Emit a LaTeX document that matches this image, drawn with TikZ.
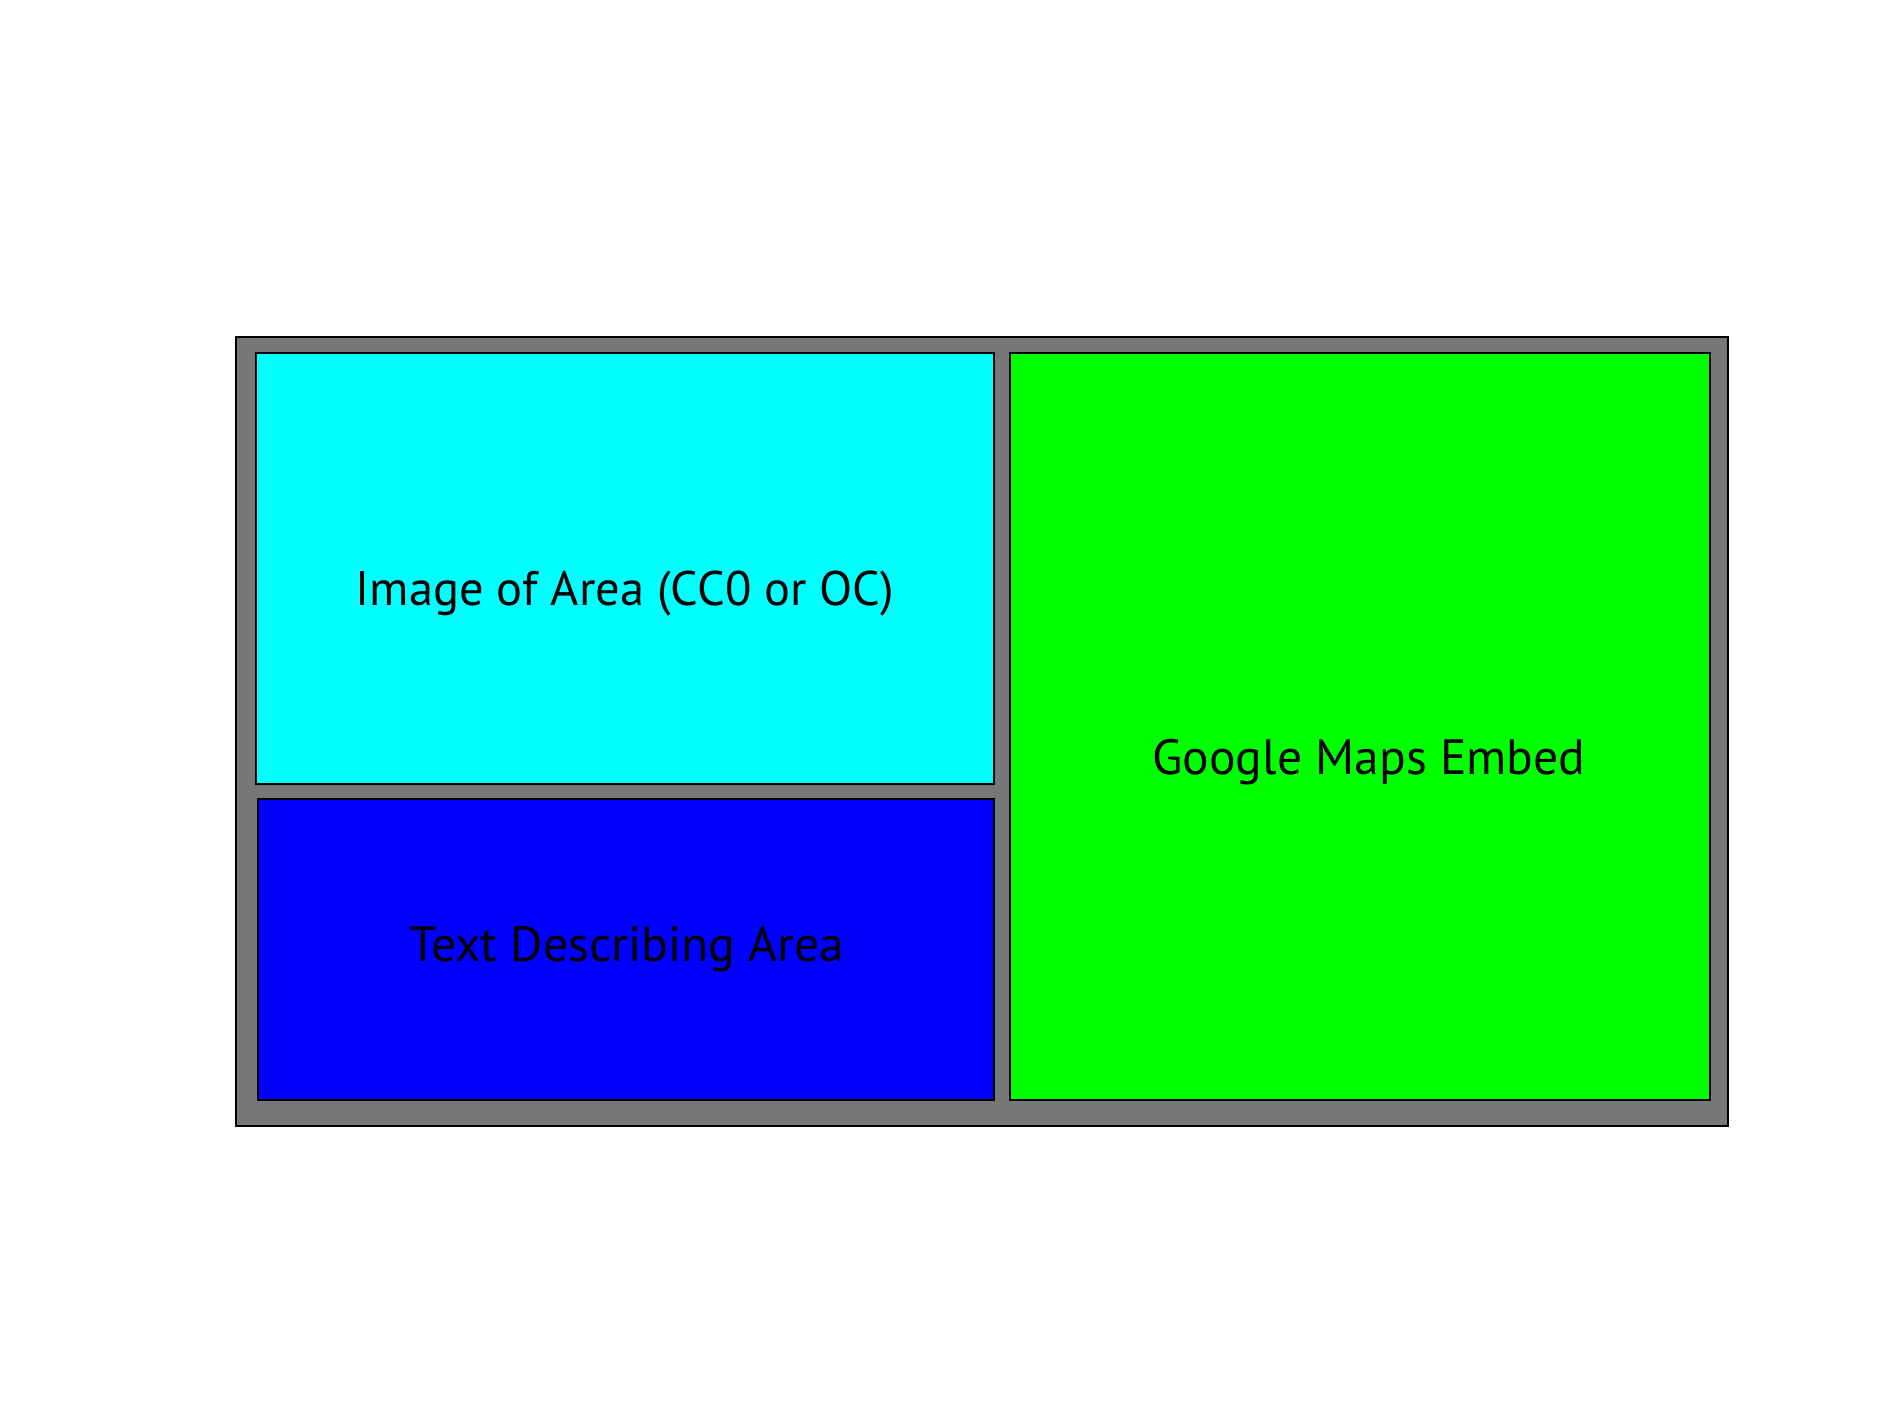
\documentclass[tikz,border=0pt]{standalone}
\usepackage{fontspec}
\setmainfont{PT Sans}
\usepackage{tikz}

\definecolor{framegray}{HTML}{777777}
\definecolor{imgcyan}{HTML}{00FFFF}
\definecolor{txtblue}{HTML}{0000FF}
\definecolor{mapgreen}{HTML}{00FF00}

\tikzset{
	panel/.style={draw=black, line width=0.6pt},
	label/.style={anchor=base, inner sep=0pt, font=\fontsize{14.1}{16}\selectfont}
}

\begin{document}
\begin{tikzpicture}
	\useasboundingbox (0,0) rectangle (18.90,14.17);

	\filldraw [panel, fill=framegray] (2.36,10.80) rectangle (17.28,2.91);
	\filldraw [panel, fill=imgcyan] (2.56,10.64) rectangle (9.94,6.33);
	\filldraw [panel, fill=txtblue] (2.58,6.18) rectangle (9.94,3.17);
	\filldraw [panel, fill=mapgreen] (10.10,10.64) rectangle (17.10,3.17);

	\node [label, font=\fontsize{13.8}{16}\selectfont] (img) at (6.25,8.11) {Image of Area (CC0 or OC)};
	\node [label] (txt) at (6.27,4.55) {Text Describing Area};
	\node [label] (map) at (13.69,6.42) {Google Maps Embed};

\end{tikzpicture}
\end{document}
